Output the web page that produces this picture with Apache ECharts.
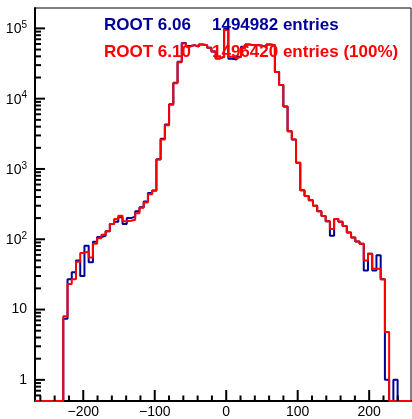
<!DOCTYPE html>
<html><head><meta charset="utf-8">
<script src="https://cdn.jsdelivr.net/npm/echarts@6/dist/echarts.min.js"></script>
<style>html,body{margin:0;padding:0;background:#fff}#c{width:412px;height:419px}</style>
</head><body><div id="c"></div>
<script>
// histogram binning (bins centred on multiples of binWidth, first bin index firstBin)
const binWidth = 5.92;
const firstBin = -38;
// ROOT 6.06 (blue), bins k = -38 .. 40
const v606 = [7.4,27,34,50,30,81,47,92,108,112,130,165,178,205,165,200,210,250,285,345,455,495,
  1380,2700,4300,8300,16800,33500,62000,56000,57800,55000,59000,57800,53000,47000,37400,39500,
  99000,37000,36000,39500,55000,59000,57800,57800,56500,54700,59000,57800,
  24000,15700,7760,3435,2620,1224,500,414,360,300,250,215,180,112,194,178,155,125,106,93,86,
  36,62,36,59,27,1,0,1];
// ROOT 6.10 (red), bins k = -38 .. 40
const v610 = [8,23,27,48,64,67,55,86,103,116,130,165,194,216,180,183,190,235,280,333,437,490,
  1367,2625,4200,8200,16600,33000,61000,55000,57800,55000,59000,57800,53000,47000,37400,39500,
  95000,39500,37400,39500,52000,59000,57800,57800,56500,54700,59000,57800,
  24000,15700,7760,3435,2620,1224,500,414,360,300,250,215,180,140,194,178,155,125,106,93,86,
  50,62,38,38,27,4.8,0,0];
const xTickLabels = [-200,-100,0,100,200];
const xMinorTicks = [-260,-240,-220,-180,-160,-140,-120,-80,-60,-40,-20,20,40,60,80,120,140,160,180,220,240];
const yTickValues = [1,10,100,1000,10000,100000];
const yMinorTicks = [0.6,0.7,0.8,0.9,2,3,4,5,6,7,8,9,20,30,40,50,60,70,80,90,200,300,400,500,600,700,800,900,
  2000,3000,4000,5000,6000,7000,8000,9000,20000,30000,40000,50000,60000,70000,80000,90000];
const legendNames = ['ROOT 6.06','ROOT 6.10'];
const legendEntries = ['1494982 entries','1496420 entries (100%)'];
const colors = ['#000099','#ff0000'];

const xMin = -267.5, xMax = 258.5, yMin = 0.5, yMax = 1.95e5;

function stepPoints(vals){
  const pts = [[xMin, yMin]];
  const first = (firstBin - 0.5) * binWidth;
  pts.push([first, yMin]);
  vals.forEach((v,i)=>{
    const c = (firstBin + i) * binWidth;
    const y = v > 0 ? v : yMin;
    pts.push([c - binWidth/2, y],[c + binWidth/2, y]);
  });
  const last = (firstBin + vals.length - 0.5) * binWidth;
  pts.push([last, yMin],[xMax, yMin]);
  return pts;
}

const tickData = [];
yTickValues.forEach(v=>tickData.push([xMin, v, 10, 0]));
yMinorTicks.forEach(v=>tickData.push([xMin, v, 6, 0]));
xTickLabels.forEach(v=>tickData.push([v, yMin, 11, 1]));
xMinorTicks.forEach(v=>tickData.push([v, yMin, 5.5, 1]));

const chart = echarts.init(document.getElementById('c'), null, {renderer:'canvas'});
const font = 'Liberation Sans, Arial, Helvetica, sans-serif';
chart.setOption({
  animation:false,
  backgroundColor:'#fff',
  grid:{left:35, right:1, top:8, bottom:17, show:true, borderColor:'#000', borderWidth:1, backgroundColor:'transparent'},
  xAxis:{type:'value', min:xMin, max:xMax,
    axisLine:{show:true, onZero:false, lineStyle:{color:'#000', width:2}},
    axisTick:{show:false}, splitLine:{show:false},
    axisLabel:{showMinLabel:false, showMaxLabel:false, margin:4, color:'#000', fontSize:14, fontFamily:font,
      formatter:v=> xTickLabels.indexOf(Math.round(v))>=0 ? String(Math.round(v)).replace('-','\u2212') : ''}
  },
  yAxis:{type:'log', logBase:10, min:yMin, max:yMax,
    axisLine:{show:true, onZero:false, lineStyle:{color:'#000', width:2}},
    axisTick:{show:false}, splitLine:{show:false},
    axisLabel:{showMinLabel:false, showMaxLabel:false, margin:8, color:'#000', fontFamily:font,
      formatter:v=>{
        const e = Math.round(Math.log10(v));
        if (!yTickValues.some(t=>Math.abs(t-v)/t<1e-6)) return '';
        if (e===0) return '{b|1}';
        if (e===1) return '{b|10}';
        return '{b|10}{s|'+e+'}';
      },
      rich:{b:{fontSize:14, fontFamily:font, color:'#000', verticalAlign:'bottom'},
            s:{fontSize:10, fontFamily:font, color:'#000', verticalAlign:'bottom', padding:[0,0,6,0]}}
    }
  },
  series:[
    {type:'line', data:stepPoints(v606), showSymbol:false, clip:false, lineStyle:{color:colors[0], width:2}, z:3},
    {type:'line', data:stepPoints(v610), showSymbol:false, clip:false, lineStyle:{color:colors[1], width:2}, z:4},
    {type:'custom', silent:true, clip:false, z:5, data:tickData, encode:{x:0,y:1},
      renderItem:(params, api)=>{
        const p = api.coord([api.value(0), api.value(1)]);
        const len = api.value(2), dir = api.value(3);
        const shape = dir===0 ? {x1:p[0], y1:p[1], x2:p[0]+len, y2:p[1]} : {x1:p[0], y1:p[1], x2:p[0], y2:p[1]-len};
        return {type:'line', shape:shape, style:{stroke:'#000', lineWidth:2}};
      }}
  ],
  graphic:[
    {type:'text', z:100, style:{x:104, y:25.5, text:legendNames[0], fill:colors[0], font:'bold 17px '+font, textVerticalAlign:'middle'}},
    {type:'text', z:100, style:{x:212, y:25.5, text:legendEntries[0], fill:colors[0], font:'bold 17px '+font, textVerticalAlign:'middle'}},
    {type:'text', z:100, style:{x:104, y:52.5, text:legendNames[1], fill:colors[1], font:'bold 17px '+font, textVerticalAlign:'middle'}},
    {type:'text', z:100, style:{x:212, y:52.5, text:legendEntries[1], fill:colors[1], font:'bold 17px '+font, textVerticalAlign:'middle'}}
  ]
});
</script></body></html>
